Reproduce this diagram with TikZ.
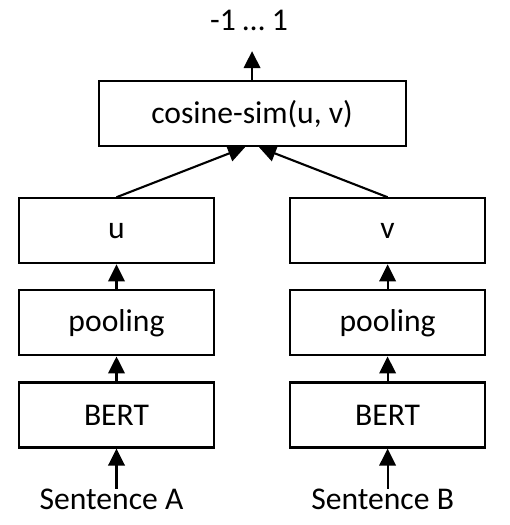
\documentclass[tikz,border=0pt]{standalone}
\usepackage{fontspec}
\setmainfont{Carlito}
\usetikzlibrary{positioning,arrows.meta,calc}

\tikzset{
  block/.style={draw, line width=1.2pt, minimum width=3.9cm, minimum height=1.3cm,
    inner sep=0pt, font=\fontsize{18}{22}\selectfont},
  txt/.style={inner sep=0pt, font=\fontsize{18}{22}\selectfont},
  arr/.style={-{Triangle[length=0.34cm,width=0.33cm]}, line width=1.2pt},
}

\begin{document}
\begin{tikzpicture}
      \useasboundingbox (0,0) rectangle (10.18,-10.5);
      % Define nodes
      \node[block] (bertA) at (2.33,-8.30) {BERT};
      \node[block, above=0.5cm of bertA] (poolA) {pooling};
      \node[block, above=0.5cm of poolA]  (u) {u};
      \node[block, right=1.48cm of bertA] (bertB) {BERT};
      \node[block, above=0.5cm of bertB] (poolB) {pooling};
      \node[block, above=0.5cm of poolB]  (v) {v};
      \coordinate (mid) at ($(u.north)!0.5!(v.north)$);
      \node[block, above=1cm of mid, minimum width=6.14cm] (cos) {cosine-sim(u, v)};
      \node[txt, above=0.98cm of cos, xshift=-0.06cm] (out) {-1 … 1};
      \node[txt, below=0.8cm of bertA, xshift=-0.1cm] (sentA) {Sentence A};
      \node[txt, below=0.8cm of bertB, xshift=-0.1cm] (sentB) {Sentence B};
      % Define edges
      \draw[arr] (sentA.north -| bertA) -- (bertA);
      \draw[arr] (sentB.north -| bertB) -- (bertB);
      \draw[arr] (bertA) -- (poolA);
      \draw[arr] (bertB) -- (poolB);
      \draw[arr] (poolA) -- (u);
      \draw[arr] (poolB) -- (v);
      \draw[arr] (u.north) -- ($(cos.south)+(-0.14,0)$);
      \draw[arr] (v.north) -- ($(cos.south)+(0.14,0)$);
      \draw[arr, shorten >=0.4cm] (cos) -- (out.south -| cos);
    \end{tikzpicture}
\end{document}
